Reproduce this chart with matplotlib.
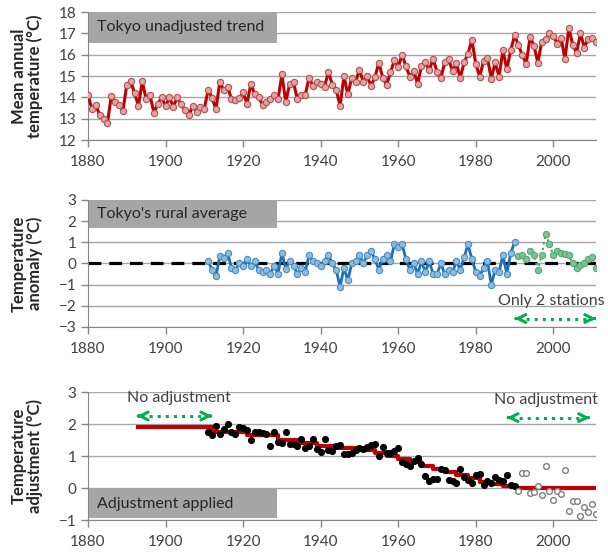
import numpy as np
import matplotlib
matplotlib.use("Agg")
import matplotlib.pyplot as plt
from matplotlib.patches import Rectangle

plt.rcParams['font.family'] = ['Lato', 'DejaVu Sans']

# Tokyo mean annual temperature, 1880-2011
tokyo_years = list(range(1880, 2012))
tokyo_temp = [
    14.1, 13.47, 13.66, 13.16, 12.97, 12.8, 14.05, 13.8, 13.66, 13.36,
    14.6, 14.75, 14.2, 13.6, 14.75, 13.9, 14.1, 13.27, 13.7, 14.0,
    13.58, 14.0, 13.55, 14.0, 13.67, 13.4, 13.16, 13.6, 13.3, 13.56,
    13.47, 14.36, 13.97, 13.44, 14.73, 14.33, 14.5, 13.9, 13.86, 13.95,
    14.23, 13.7, 14.64, 14.14, 14.0, 13.66, 13.8, 13.9, 14.1, 13.9,
    15.08, 13.78, 14.63, 14.7, 13.9, 14.1, 14.1, 14.92, 14.55, 14.7,
    14.64, 14.5, 15.2, 14.6, 14.36, 13.6, 14.98, 14.14, 14.9, 14.73,
    15.3, 14.72, 14.98, 14.53, 14.95, 15.63, 14.92, 14.58, 15.17, 15.73,
    15.44, 16.0, 15.45, 14.97, 15.23, 14.63, 15.48, 15.64, 15.27, 15.8,
    15.2, 14.9, 15.64, 15.8, 15.22, 15.6, 14.92, 15.64, 16.05, 16.7,
    15.56, 14.97, 15.7, 15.84, 14.88, 15.64, 14.97, 16.22, 15.31, 16.2,
    16.9, 16.45, 15.97, 15.56, 16.83, 16.42, 15.63, 16.6, 16.73, 17.0,
    16.88, 16.52, 16.78, 15.8, 17.27, 16.45, 16.1, 17.0, 16.33, 16.75,
    16.8, 16.6,
]

# rural station average anomaly
rural_years = list(range(1911, 1991))
rural_anom = [
    0.1, -0.3, -0.6, 0.35, 0.25, 0.5, -0.2, -0.3, 0.0, -0.1,
    0.2, -0.1, 0.1, -0.3, -0.4, -0.3, -0.5, -0.1, -0.5, 0.5,
    -0.25, 0.1, -0.1, -0.5, -0.2, -0.4, 0.4, 0.1, 0.0, -0.1,
    0.1, 0.4, 0.0, -0.3, -1.1, -0.2, -0.8, 0.0, 0.1, 0.4,
    0.0, 0.4, 0.6, 0.2, -0.3, 0.2, 0.4, 0.1, 0.9, 0.8,
    0.9, 0.2, -0.3, 0.0, -0.5, 0.1, -0.4, 0.1, -0.5, -0.5,
    0.0, -0.5, -0.3, -0.4, 0.1, -0.3, 0.3, 0.9, 0.2, -0.4,
    -0.6, -0.2, 0.1, -1.0, -0.3, -0.4, 0.4, -0.5, 0.5, 1.0,
]
two_st_years = list(range(1991, 2012))
two_st_anom = [
    0.35, 0.4, 0.2, 0.6, 0.4, -0.3, 0.4, 1.4, 0.9, 0.4,
    0.6, 0.5, 0.45, 0.4, 0.0, -0.2, -0.05, 0.0, 0.2, 0.3, -0.2,
]

# yearly adjustment
adj_years = list(range(1911, 1991))
adj_vals = [
    1.74, 1.66, 1.95, 1.68, 1.84, 2.0, 1.74, 1.68, 1.92, 1.87,
    1.81, 1.49, 1.74, 1.76, 1.73, 1.7, 1.32, 1.76, 1.45, 1.42,
    1.74, 1.37, 1.37, 1.32, 1.53, 1.24, 1.32, 1.53, 1.21, 1.14,
    1.53, 1.18, 1.16, 1.32, 1.35, 1.07, 1.07, 1.1, 1.18, 1.24,
    1.21, 1.28, 1.35, 1.39, 1.0, 1.28, 1.1, 1.1, 1.16, 1.24,
    0.82, 0.74, 0.68, 0.84, 0.93, 0.74, 0.37, 0.21, 0.29, 0.29,
    0.58, 0.55, 0.26, 0.21, 0.16, 0.58, 0.34, 0.26, 0.16, 0.42,
    0.44, 0.1, 0.23, 0.16, 0.34, 0.26, 0.21, 0.4, 0.1, 0.05,
]
late_years = list(range(1991, 2012))
late_vals = [
    -0.1, 0.47, 0.47, -0.16, -0.13, 0.05, -0.23, 0.7, -0.08, -0.37,
    -0.1, -0.19, 0.55, -0.72, -0.4, -0.4, -0.86, -0.58, -0.76, -0.5, -0.82,
]

# applied step adjustment
step_years = [1893, 1912, 1921, 1929, 1934, 1939, 1944, 1950, 1954, 1957, 1960,
              1963, 1966, 1969, 1972, 1975, 1978, 1981, 1984, 1987, 1990, 2011]
step_vals = [1.9, 1.75, 1.65, 1.5, 1.42, 1.32, 1.24, 1.18, 1.1, 1.0, 0.9,
             0.8, 0.7, 0.58, 0.5, 0.4, 0.3, 0.2, 0.12, 0.05, 0.0, 0.0]

GRID = '#a6a6a6'
TXT = '#404040'
GREEN = '#00b050'

fig = plt.figure(figsize=(6.08, 5.54), dpi=100)
left, width = 88 / 608, 508 / 608
ax1 = fig.add_axes([left, 1 - 140 / 554, width, 128 / 554])
ax2 = fig.add_axes([left, 1 - 327 / 554, width, 127 / 554])
ax3 = fig.add_axes([left, 1 - 520 / 554, width, 128 / 554])


def style(ax, ylim, yticks, ylabel):
    ax.set_xlim(1880, 2011)
    ax.set_ylim(*ylim)
    ax.set_xticks(range(1880, 2001, 20))
    ax.set_yticks(yticks)
    ax.yaxis.grid(True, color=GRID, lw=1)
    ax.set_axisbelow(True)
    for s in ['top', 'right']:
        ax.spines[s].set_visible(False)
    for s in ['left', 'bottom']:
        ax.spines[s].set_color('#868686')
    ax.tick_params(axis='both', colors='#868686', labelcolor=TXT,
                   labelsize=11, length=5, width=1)
    ax.tick_params(axis='x', pad=6)
    ax.set_ylabel(ylabel, fontsize=12, fontweight='bold', color='#262626',
                  linespacing=1.0)
    ax.yaxis.set_label_coords(-0.088, 0.5)


def label_box(ax, x0, x1, y0, y1, text):
    ax.add_patch(Rectangle((x0, y0), x1 - x0, y1 - y0, facecolor='#a6a6a6',
                           edgecolor='none', zorder=2))
    ax.text(x0 + 2.2, (y0 + y1) / 2, text, fontsize=11.5, color='#262626',
            va='center', ha='left', zorder=3)


def green_arrow(ax, x0, x1, y):
    ax.plot([x0 + 1, x1 - 1], [y, y], ls=':', lw=2.2, color=GREEN, zorder=4)
    for a, b in [(x0, x0 + 0.5), (x1, x1 - 0.5)]:
        ax.annotate('', xy=(a, y), xytext=(b, y),
                    arrowprops=dict(arrowstyle='->', color=GREEN, lw=2.2,
                                    mutation_scale=14, shrinkA=0, shrinkB=0),
                    zorder=4)


# top: unadjusted Tokyo record
style(ax1, (12, 18), range(12, 19), 'Mean annual\ntemperature (°C)')
ax1.plot(tokyo_years, tokyo_temp, color='#c00000', lw=2.2, marker='o', ms=4.5,
         mfc='#e6a3a3', mec='#b05050', mew=0.8, zorder=3)
label_box(ax1, 1880, 1928.7, 16.55, 18, 'Tokyo unadjusted trend')

# middle: rural average
style(ax2, (-3, 3), range(-3, 4), 'Temperature\nanomaly (°C)')
ax2.plot([1880, 2011], [0, 0], color='black', lw=2.3, ls=(0, (4, 2.5)), zorder=2)
ax2.plot(rural_years, rural_anom, color='#1a70b8', lw=2, marker='o', ms=4.5,
         mfc='#8cbde0', mec='#4a8cbf', mew=0.8, zorder=3)
ax2.plot(two_st_years, two_st_anom, color='#3aa860', lw=1.5, ls=':',
         marker='o', ms=4.5, mfc='#7dc493', mec='#55a870', mew=0.8, zorder=3)
label_box(ax2, 1880, 1928.7, 1.7, 3, "Tokyo's rural average")
ax2.text(1999.6, -1.75, 'Only 2 stations', fontsize=11.5, color=TXT,
         ha='center', va='center', clip_on=False)
green_arrow(ax2, 1990, 2011, -2.6)

# bottom: adjustment applied
style(ax3, (-1, 3), range(-1, 4), 'Temperature\nadjustment (°C)')
ax3.step(step_years, step_vals, where='post', color='#c00000', lw=3, zorder=3)
ax3.scatter(adj_years, adj_vals, s=17, color='black', zorder=4)
ax3.scatter(late_years, late_vals, s=17, facecolor='white',
            edgecolor='#7f7f7f', lw=1, zorder=4)
label_box(ax3, 1880, 1928.7, -0.95, -0.03, 'Adjustment applied')
ax3.text(1903.5, 2.8, 'No adjustment', fontsize=11.5, color=TXT,
         ha='center', va='center')
green_arrow(ax3, 1892.6, 1912, 2.25)
ax3.text(1998, 2.75, 'No adjustment', fontsize=11.5, color=TXT,
         ha='center', va='center', clip_on=False)
green_arrow(ax3, 1988, 2009.4, 2.2)

fig.savefig('out.png', dpi=100)
